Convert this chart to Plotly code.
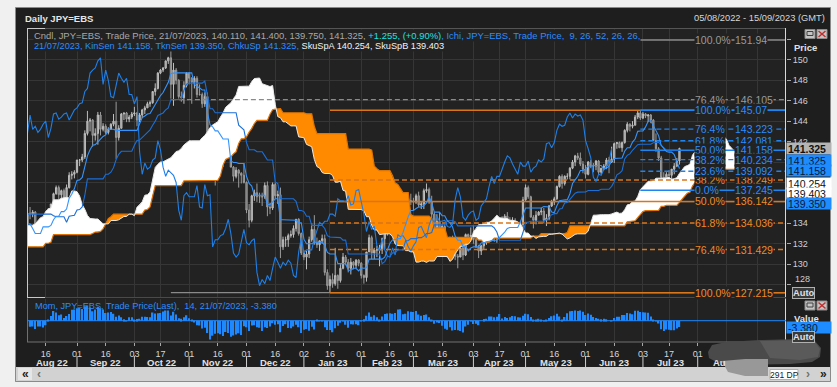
import numpy as np
import pandas as pd
import plotly.graph_objects as go

# ---------------- data ----------------
# prior sessions 20/04/2022 - 04/08/2022 (off-screen look-back for the Ichimoku spans / momentum)
pre_high = [129.4, 128.6, 128.8, 128.6, 128.2, 128.5, 131.2, 131.3, 130.3, 130.5,
            130.4, 130.8, 130.9, 131.35, 130.5, 130.8, 130.0, 129.5, 129.5, 129.5,
            129.5, 128.9, 128.3, 128.0, 127.9, 127.4, 127.6, 127.3, 127.8, 128.8,
            130.2, 130.3, 131.0, 132.0, 133.0, 134.5, 134.6, 134.5, 135.2, 135.6,
            135.4, 134.7, 135.4, 135.4, 136.7, 136.7, 136.4, 135.4, 135.6, 136.4,
            137.0, 136.9, 135.8, 135.9, 136.4, 136.2, 136.0, 136.5, 137.7, 137.7,
            137.9, 139.4, 139.1, 138.9, 138.4, 138.4, 138.9, 137.7, 136.8, 137.4,
            137.5, 136.6, 134.6, 133.5, 133.2, 134.1, 134.0]
pre_low = [127.5, 127.2, 127.8, 127.0, 126.9, 127.0, 128.5, 129.3, 129.4, 129.9,
           128.6, 129.0, 130.0, 130.1, 129.9, 129.5, 127.5, 128.3, 128.8, 128.9,
           128.0, 127.5, 127.5, 127.0, 126.4, 126.6, 126.9, 126.9, 127.0, 127.5,
           128.6, 129.5, 129.9, 130.6, 131.8, 132.5, 133.6, 133.4, 133.6, 134.0,
           133.5, 131.5, 131.5, 134.6, 134.6, 135.2, 134.3, 134.5, 134.9, 135.3,
           135.9, 135.6, 134.7, 135.1, 135.3, 134.9, 135.5, 135.6, 135.9, 136.6,
           136.4, 137.2, 138.2, 137.9, 137.4, 137.6, 137.0, 135.6, 135.6, 136.3,
           136.3, 134.2, 132.5, 131.6, 130.4, 132.6, 132.9]
pre_close = [127.9, 128.4, 128.5, 128.1, 127.2, 128.4, 130.8, 129.8, 130.1, 130.1,
             129.1, 130.2, 130.6, 130.3, 130.4, 129.9, 128.3, 129.2, 129.2, 129.4,
             128.3, 128.0, 127.9, 127.9, 126.9, 127.3, 127.1, 127.1, 127.6, 128.7,
             130.1, 129.9, 130.9, 131.9, 132.6, 134.2, 134.4, 134.4, 134.4, 135.4,
             134.0, 132.2, 135.0, 135.0, 136.6, 136.2, 134.9, 135.2, 135.4, 136.1,
             136.6, 135.7, 135.2, 135.7, 135.9, 135.9, 136.0, 136.1, 137.4, 136.9,
             137.4, 138.9, 138.5, 138.2, 138.2, 138.2, 137.4, 136.1, 136.7, 137.0,
             136.6, 134.3, 133.3, 131.6, 133.1, 133.8, 133.9]

# visible sessions 05/08/2022 - 21/07/2023
open_ = [133.9, 135.0, 134.9, 135.1, 132.9, 133.0, 133.5, 133.3, 134.2, 135.0,
         135.9, 136.9, 137.5, 136.8, 137.2, 136.5, 137.5, 138.7, 138.8, 139.0,
         140.2, 140.2, 140.5, 142.8, 144.0, 144.1, 142.6, 142.8, 144.6, 143.2,
         143.5, 142.9, 143.2, 143.7, 144.0, 142.4, 143.3, 144.7, 144.8, 144.2,
         144.4, 144.7, 144.8, 144.1, 144.6, 145.1, 145.3, 145.7, 145.8, 146.9,
         147.2, 148.7, 149.0, 149.2, 149.9, 150.2, 147.6, 149.0, 148.0, 146.4,
         146.3, 147.5, 148.7, 148.2, 147.8, 148.2, 146.6, 146.6, 145.7, 146.4,
         141.0, 138.8, 139.9, 139.3, 139.5, 140.2, 140.4, 142.1, 141.2, 139.5,
         138.6, 139.2, 138.9, 138.7, 138.0, 135.3, 134.3, 136.7, 137.0, 136.6,
         136.6, 136.6, 137.7, 135.6, 135.5, 137.8, 136.7, 136.8, 131.7, 132.4,
         132.4, 132.8, 132.9, 133.5, 134.4, 133.0, 131.1, 130.7, 131.0, 132.4,
         133.4, 132.1, 131.9, 132.3, 132.5, 129.2, 127.9, 128.5, 128.1, 128.9,
         128.4, 129.6, 130.7, 130.2, 129.6, 130.2, 129.9, 130.4, 130.1, 128.9,
         128.7, 131.2, 132.6, 131.1, 131.4, 131.4, 131.4, 132.5, 133.2, 134.1,
         133.9, 134.2, 134.2, 134.9, 134.9, 134.7, 136.4, 136.2, 136.2, 136.1,
         136.7, 135.8, 135.9, 137.2, 137.3, 136.1, 134.9, 133.2, 134.2, 133.4,
         133.7, 131.8, 131.3, 132.5, 131.4, 130.8, 130.7, 131.6, 130.9, 132.9,
         132.7, 132.8, 132.4, 131.7, 131.3, 131.8, 132.2, 133.6, 133.7, 133.1,
         132.6, 133.8, 134.5, 134.1, 134.7, 134.2, 134.2, 134.3, 133.7, 133.6,
         133.9, 136.3, 137.5, 136.6, 134.6, 134.3, 134.8, 135.1, 135.2, 134.3,
         134.5, 135.7, 136.1, 136.4, 137.6, 138.6, 137.9, 138.6, 138.6, 139.4,
         140.0, 140.6, 140.4, 139.8, 139.3, 138.8, 140.0, 139.6, 139.6, 140.1,
         139.0, 139.4, 139.6, 140.2, 140.0, 140.3, 141.8, 141.9, 141.4, 141.9,
         143.1, 143.7, 143.5, 143.6, 144.4, 144.8, 144.3, 144.705, 144.5, 144.6,
         144.1, 142.1, 141.3, 140.4, 138.5, 138.1, 138.8, 138.7, 139.3, 139.6,
         140.11]
high = [135.5, 135.6, 135.3, 135.2, 133.4, 133.9, 133.6, 134.5, 135.5, 135.9,
        137.0, 137.7, 137.7, 137.3, 137.4, 137.8, 139.0, 139.1, 139.2, 140.2,
        140.3, 140.8, 143.1, 145.0, 144.3, 144.2, 143.3, 144.9, 144.9, 143.8,
        143.7, 143.4, 143.8, 144.7, 145.9, 143.6, 144.8, 144.8, 144.9, 144.6,
        144.9, 145.4, 144.9, 144.8, 145.2, 145.5, 145.9, 146.0, 146.9, 147.7,
        148.8, 149.1, 149.3, 149.9, 150.3, 151.94, 149.7, 149.2, 148.1, 146.9,
        147.9, 148.8, 148.8, 148.3, 148.4, 148.4, 147.6, 146.8, 146.8, 146.8,
        142.5, 140.8, 140.6, 140.2, 140.8, 140.5, 142.2, 142.2, 141.7, 139.6,
        139.5, 139.3, 139.0, 139.9, 138.1, 135.9, 136.8, 137.3, 137.9, 137.0,
        137.0, 138.0, 138.1, 136.0, 138.0, 138.0, 137.2, 137.5, 132.7, 132.7,
        133.0, 133.3, 133.8, 134.4, 134.5, 133.1, 131.4, 131.3, 132.7, 134.0,
        134.8, 132.6, 132.3, 132.9, 132.9, 129.5, 128.9, 129.1, 131.6, 129.0,
        130.0, 131.1, 130.9, 130.5, 130.6, 130.3, 130.5, 130.5, 130.2, 129.0,
        131.2, 132.9, 132.8, 131.6, 131.8, 131.9, 132.6, 133.3, 134.3, 134.2,
        135.0, 134.5, 135.2, 135.2, 135.1, 136.5, 136.5, 136.9, 136.5, 136.9,
        137.1, 136.1, 137.4, 137.9, 137.5, 136.7, 135.1, 134.9, 135.1, 133.9,
        133.9, 132.4, 132.7, 132.8, 131.6, 131.0, 131.8, 131.7, 133.0, 133.0,
        133.6, 133.8, 132.8, 131.9, 131.9, 132.4, 133.7, 133.9, 134.1, 133.3,
        134.0, 134.6, 134.7, 134.9, 135.1, 134.6, 134.6, 134.5, 134.1, 134.2,
        136.6, 137.8, 137.7, 136.7, 134.8, 135.2, 135.2, 135.5, 135.5, 134.9,
        135.8, 136.3, 136.6, 137.7, 138.7, 138.8, 138.7, 138.9, 139.5, 140.2,
        140.7, 140.9, 140.93, 140.1, 139.7, 140.1, 140.2, 139.9, 140.2, 140.2,
        139.4, 139.8, 140.4, 140.5, 141.5, 141.9, 141.9, 142.0, 142.0, 143.2,
        143.9, 143.8, 144.0, 144.6, 145.0, 145.07, 144.9, 144.8, 144.7, 144.7,
        144.2, 142.8, 141.455, 140.6, 139.0, 139.0, 139.2, 139.3, 139.9, 140.4,
        141.4]
low = [132.5, 134.4, 134.6, 132.4, 131.7, 132.6, 132.6, 133.0, 133.9, 134.6,
       135.6, 136.8, 136.2, 136.3, 136.3, 136.2, 137.4, 138.3, 138.4, 138.9,
       139.6, 140.0, 140.3, 142.6, 143.0, 141.5, 142.1, 141.7, 142.6, 143.0,
       142.7, 142.7, 143.2, 143.5, 140.3, 142.1, 143.3, 144.1, 143.9, 143.9,
       144.2, 144.5, 143.5, 143.9, 144.3, 144.7, 145.3, 145.4, 145.7, 146.5,
       147.1, 148.6, 148.8, 149.1, 149.6, 146.2, 145.5, 147.6, 146.2, 145.9,
       145.7, 147.3, 147.6, 145.7, 147.2, 146.3, 146.5, 145.3, 145.4, 140.9,
       138.5, 138.5, 137.7, 138.8, 139.3, 139.5, 140.2, 140.9, 139.5, 138.1,
       138.4, 137.5, 137.9, 137.9, 135.0, 133.6, 134.1, 136.2, 136.1, 136.0,
       135.7, 136.4, 134.7, 134.9, 135.3, 136.4, 135.9, 130.6, 131.4, 131.7,
       131.7, 132.6, 132.6, 133.2, 132.8, 130.9, 130.4, 129.5, 130.6, 132.2,
       131.9, 131.6, 131.3, 132.0, 128.9, 127.5, 127.215, 127.7, 127.9, 127.6,
       128.2, 129.5, 129.9, 129.2, 129.0, 129.5, 129.6, 129.8, 128.6, 128.1,
       128.3, 131.2, 130.5, 130.5, 130.7, 129.8, 131.0, 131.5, 132.8, 133.6,
       133.6, 134.0, 134.1, 134.6, 134.2, 134.1, 135.9, 135.8, 135.3, 135.9,
       135.6, 135.4, 135.4, 137.0, 135.9, 134.1, 132.3, 132.8, 132.9, 131.6,
       131.6, 130.6, 131.1, 131.1, 130.4, 129.6, 130.7, 130.4, 130.8, 132.1,
       132.5, 132.0, 131.6, 130.6, 130.9, 131.4, 131.9, 133.0, 132.7, 132.2,
       132.1, 133.6, 133.9, 133.9, 134.1, 133.9, 133.8, 133.4, 133.3, 133.2,
       133.5, 136.2, 136.4, 134.6, 133.5, 133.9, 134.8, 134.8, 134.0, 133.736,
       134.3, 135.6, 135.8, 136.3, 137.5, 137.4, 137.7, 138.3, 138.3, 139.3,
       139.6, 140.2, 139.6, 138.9, 138.4, 138.7, 139.4, 139.0, 139.2, 138.8,
       138.8, 139.2, 139.3, 138.9, 139.9, 139.9, 141.3, 141.4, 141.0, 141.8,
       142.9, 143.0, 143.3, 143.6, 144.2, 144.1, 144.2, 144.3, 143.9, 143.8,
       142.1, 141.0, 140.1, 138.2, 137.7, 137.245, 138.2, 138.0, 138.8, 139.5,
       139.75]
close = [135.0, 134.9, 135.1, 132.9, 133.0, 133.5, 133.3, 134.2, 135.0, 135.9,
         136.9, 137.5, 136.8, 137.2, 136.5, 137.5, 138.7, 138.8, 139.0, 140.2,
         140.2, 140.5, 142.8, 144.0, 144.1, 142.6, 142.8, 144.6, 143.2, 143.5,
         142.9, 143.2, 143.7, 144.0, 142.4, 143.3, 144.7, 144.8, 144.2, 144.4,
         144.7, 144.8, 144.1, 144.6, 145.1, 145.3, 145.7, 145.8, 146.9, 147.2,
         148.7, 149.0, 149.2, 149.9, 150.2, 147.6, 149.0, 148.0, 146.4, 146.3,
         147.5, 148.7, 148.2, 147.8, 148.2, 146.6, 146.6, 145.7, 146.4, 141.0,
         138.8, 139.9, 139.3, 139.5, 140.2, 140.4, 142.1, 141.2, 139.5, 138.6,
         139.2, 138.9, 138.7, 138.0, 135.3, 134.3, 136.7, 137.0, 136.6, 136.6,
         136.6, 137.7, 135.6, 135.5, 137.8, 136.7, 136.8, 131.7, 132.4, 132.4,
         132.8, 132.9, 133.5, 134.4, 133.0, 131.1, 130.7, 131.0, 132.4, 133.4,
         132.1, 131.9, 132.3, 132.5, 129.2, 127.9, 128.5, 128.1, 128.9, 128.4,
         129.6, 130.7, 130.2, 129.6, 130.2, 129.9, 130.4, 130.1, 128.9, 128.7,
         131.2, 132.6, 131.1, 131.4, 131.4, 131.4, 132.5, 133.2, 134.1, 133.9,
         134.2, 134.2, 134.9, 134.9, 134.7, 136.4, 136.2, 136.2, 136.1, 136.7,
         135.8, 135.9, 137.2, 137.3, 136.1, 134.9, 133.2, 134.2, 133.4, 133.7,
         131.8, 131.3, 132.5, 131.4, 130.8, 130.7, 131.6, 130.9, 132.9, 132.7,
         132.8, 132.4, 131.7, 131.3, 131.8, 132.2, 133.6, 133.7, 133.1, 132.6,
         133.8, 134.5, 134.1, 134.7, 134.2, 134.2, 134.3, 133.7, 133.6, 133.9,
         136.3, 137.5, 136.6, 134.6, 134.3, 134.8, 135.1, 135.2, 134.3, 134.5,
         135.7, 136.1, 136.4, 137.6, 138.6, 137.9, 138.6, 138.6, 139.4, 140.0,
         140.6, 140.4, 139.8, 139.3, 138.8, 140.0, 139.6, 139.6, 140.1, 139.0,
         139.4, 139.6, 140.2, 140.0, 140.3, 141.8, 141.9, 141.4, 141.9, 143.1,
         143.7, 143.5, 143.6, 144.4, 144.8, 144.3, 144.705, 144.5, 144.6, 144.1,
         142.1, 141.3, 140.4, 138.5, 138.1, 138.8, 138.7, 139.3, 139.6, 140.07,
         141.325]

TENKAN_N, KIJUN_N, SPANB_N, SHIFT, MOM_N = 9, 26, 52, 26, 14

tick_dates = ["2022-08-16", "2022-09-01", "2022-09-16", "2022-10-03", "2022-10-17",
              "2022-11-01", "2022-11-16", "2022-12-01", "2022-12-16", "2023-01-02",
              "2023-01-16", "2023-02-01", "2023-02-16", "2023-03-01", "2023-03-16",
              "2023-04-03", "2023-04-17", "2023-05-01", "2023-05-16", "2023-06-01",
              "2023-06-16", "2023-07-03", "2023-07-17", "2023-08-01", "2023-08-16",
              "2023-09-01"]
tick_text = ["16", "01", "16", "03", "17", "01", "16", "01", "16", "02", "16", "01", "16",
             "01", "16", "03", "17", "01", "16", "01", "16", "03", "17", "01", "16", "01"]
month_starts = ["2022-09-01", "2022-10-03", "2022-11-01", "2022-12-01", "2023-01-02",
                "2023-02-01", "2023-03-01", "2023-04-03", "2023-05-01", "2023-06-01",
                "2023-07-03", "2023-08-01"]
month_labels = ["Aug 22", "Sep 22", "Oct 22", "Nov 22", "Dec 22", "Jan 23", "Feb 23",
                "Mar 23", "Apr 23", "May 23", "Jun 23", "Jul 23"]

# Fibonacci retracements
fib_gray_start = "2022-10-21"
fib_gray_pct = ["100.0%", "76.4%", "0.0%"]
fib_gray_val = [151.94, 146.105, 127.215]
fib_gray_dash = ["solid", "dash", "solid"]
fib_orange_start = "2023-01-16"
fib_orange_pct = ["0.0%", "38.2%", "50.0%", "61.8%", "76.4%", "100.0%"]
fib_orange_val = [145.07, 138.249, 136.142, 134.036, 131.429, 127.215]
fib_orange_dash = ["solid", "dash", "solid", "dash", "dash", "solid"]
fib_blue_start = "2023-06-30"
fib_blue_pct = ["100.0%", "76.4%", "61.8%", "50.0%", "38.2%", "23.6%", "0.0%"]
fib_blue_val = [145.07, 143.223, 142.081, 141.158, 140.234, 139.092, 137.245]
fib_blue_dash = ["solid", "dash", "dash", "solid", "dash", "dash", "solid"]

# ---------------- derived (indicators) ----------------
dates = pd.bdate_range("2022-08-05", "2023-09-15")      # 291 sessions on the axis
def didx(d):
    return int(dates.get_loc(pd.Timestamp(d)))

n = len(close)
npre = len(pre_close)
H = np.array(pre_high + high, dtype=float)
L = np.array(pre_low + low, dtype=float)
C = np.array(pre_close + close, dtype=float)

def mid(k, p):
    return (H[k - p + 1:k + 1].max() + L[k - p + 1:k + 1].min()) / 2.0

xi = list(range(n))
tenkan = [mid(j + npre, TENKAN_N) for j in xi]
kijun = [mid(j + npre, KIJUN_N) for j in xi]
span_x = list(range(n + SHIFT))
span_a = [(mid(j - SHIFT + npre, TENKAN_N) + mid(j - SHIFT + npre, KIJUN_N)) / 2 for j in span_x]
span_b = [mid(j - SHIFT + npre, SPANB_N) for j in span_x]
chik_x = [j - SHIFT for j in range(SHIFT, n)]
chik_y = close[SHIFT:]
mom = [C[j + npre] - C[j + npre - MOM_N] for j in xi]

cur_spanA = (tenkan[-1] + kijun[-1]) / 2
cur_spanB = mid(n - 1 + npre, SPANB_N)

def f3(v):
    return f"{v + 1e-9:.3f}"

# ---------------- geometry helpers ----------------
PXL, PXR, PXT, PXB = 27.0, 786.0, 28.0, 342.0
def px(x):
    return (x - PXL) / (PXR - PXL)
def py(y):
    return (PXB - y) / (PXB - PXT)

FONT = "Liberation Sans, Arial, sans-serif"
FRAME = "#1e1e1e"
PANE = "#222222"
GRID = "#363636"
BLUE = "#2b8cff"
ORANGE = "#ff8a00"

fig = go.Figure()

# cloud
def cloud_segments(xs, a, b):
    segs = []
    sx, sa, sb = [xs[0]], [a[0]], [b[0]]
    cur = a[0] >= b[0]
    for i in range(1, len(xs)):
        s = a[i] >= b[i]
        if s != cur:
            d0 = a[i - 1] - b[i - 1]
            d1 = a[i] - b[i]
            t = d0 / (d0 - d1)
            xc = xs[i - 1] + t * (xs[i] - xs[i - 1])
            yc = a[i - 1] + t * (a[i] - a[i - 1])
            sx.append(xc); sa.append(yc); sb.append(yc)
            segs.append((cur, sx, sa, sb))
            sx, sa, sb = [xc], [yc], [yc]
            cur = s
        sx.append(xs[i]); sa.append(a[i]); sb.append(b[i])
    segs.append((cur, sx, sa, sb))
    return segs

for bull, sx, sa, sb in cloud_segments(span_x, span_a, span_b):
    fig.add_trace(go.Scatter(x=sx + sx[::-1], y=sa + sb[::-1], fill="toself",
                             fillcolor="#ffffff" if bull else ORANGE,
                             line=dict(width=0), mode="lines", hoverinfo="skip"))
fig.add_trace(go.Scatter(x=span_x, y=span_b, mode="lines", line=dict(color="#e07400", width=1.2)))
fig.add_trace(go.Scatter(x=span_x, y=span_a, mode="lines", line=dict(color="#e8e8e8", width=1)))

# fib lines
X_END = 291
def add_fib(start, vals, dashes, color, width):
    s = didx(start)
    for v, d in zip(vals, dashes):
        fig.add_trace(go.Scatter(x=[s, X_END], y=[v, v], mode="lines",
                                 line=dict(color=color, width=width,
                                           dash="solid" if d == "solid" else "5px,3px"),
                                 hoverinfo="skip"))
add_fib(fib_gray_start, fib_gray_val, fib_gray_dash, "#8a8a8a", 1.3)
add_fib(fib_orange_start, fib_orange_val, fib_orange_dash, "#d9761a", 1.5)
add_fib(fib_blue_start, fib_blue_val, fib_blue_dash, "#1e84f0", 1.4)

# candles
fig.add_trace(go.Candlestick(x=xi, open=open_, high=high, low=low, close=close,
                             increasing=dict(line=dict(color="#bdbdbd", width=1), fillcolor="#9a9a9a"),
                             decreasing=dict(line=dict(color="#9c9c9c", width=1), fillcolor="#6a6a6a"),
                             whiskerwidth=0, hoverinfo="skip"))

# ichimoku lines
fig.add_trace(go.Scatter(x=chik_x, y=chik_y, mode="lines", line=dict(color="#1f7fe6", width=1.1)))
fig.add_trace(go.Scatter(x=xi, y=kijun, mode="lines", line=dict(color="#1a6fd8", width=1.1)))
fig.add_trace(go.Scatter(x=xi, y=tenkan, mode="lines", line=dict(color="#3394ff", width=1.1)))

# momentum
fig.add_trace(go.Bar(x=xi, y=mom, width=0.55, marker=dict(color="#1e88ff", line=dict(width=0)),
                     xaxis="x2", yaxis="y2", hoverinfo="skip"))

tick_idx = [didx(d) for d in tick_dates]
ytv = list(range(128, 153, 2))
ytt = [str(v) if v in (130, 132, 134, 142, 144, 146, 148, 150) else "" for v in ytv]
XR = [(PXL - 27.45) / 2.608, (PXR - 27.45) / 2.608]

fig.update_layout(
    width=837, height=387, margin=dict(l=27, r=51, t=28, b=45),
    paper_bgcolor="#f0f0f0", plot_bgcolor=PANE, showlegend=False,
    xaxis=dict(domain=[0, 1], anchor="y", range=XR, tickvals=tick_idx, showticklabels=False,
               showgrid=True, gridcolor=GRID, gridwidth=1, zeroline=False, ticks="",
               rangeslider=dict(visible=False), fixedrange=True),
    xaxis2=dict(domain=[0, 1], anchor="y2", range=XR, matches="x", tickvals=tick_idx,
                ticktext=tick_text, ticks="outside", ticklen=3, tickcolor="#a8a8a8",
                tickfont=dict(family=FONT, size=9, color="#d6d6d6"),
                showgrid=True, gridcolor=GRID, zeroline=False),
    yaxis=dict(domain=[py(297.5), 1], anchor="x", side="right", range=[126.744, 153.114],
               tickvals=ytv, ticktext=ytt, ticks="outside", ticklen=4, tickcolor="#a8a8a8",
               tickfont=dict(family=FONT, size=9, color="#cfcfcf"),
               showgrid=True, gridcolor=GRID, zeroline=False),
    yaxis2=dict(domain=[0, py(298.5)], anchor="x2", side="right", range=[-11.51, 12.0],
                showticklabels=False, showgrid=False, zeroline=False, ticks=""),
)

shapes = []
def rect(x0, y0, x1, y1, fill, line=None, layer="below", lw=1):
    shapes.append(dict(type="rect", xref="paper", yref="paper", x0=px(x0), x1=px(x1),
                       y0=py(y1), y1=py(y0), fillcolor=fill, layer=layer,
                       line=dict(color=line or fill, width=lw if line else 0)))
def hline(x0, x1, y, color, w=1, layer="above"):
    shapes.append(dict(type="line", xref="paper", yref="paper", x0=px(x0), x1=px(x1),
                       y0=py(y), y1=py(y), line=dict(color=color, width=w), layer=layer))
def vline(x, y0, y1, color, w=1, layer="above"):
    shapes.append(dict(type="line", xref="paper", yref="paper", x0=px(x), x1=px(x),
                       y0=py(y0), y1=py(y1), line=dict(color=color, width=w), layer=layer))
def ppath(pts, fill):
    d = "M " + " L ".join(f"{px(a):.5f},{py(b):.5f}" for a, b in pts) + " Z"
    shapes.append(dict(type="path", xref="paper", yref="paper", path=d, fillcolor=fill,
                       line=dict(width=0), layer="above"))

rect(15.5, 7.5, 830.5, 381.5, FRAME, line="#8a8a8a")
rect(27, 28, 786, 297.5, PANE)
rect(27, 298.5, 786, 342, PANE)
rect(16, 367, 830, 381, "#d2d2d2")
rect(18, 368, 32, 380, "#e6e6e6")

# pane frames
hline(27, 786, 28.5, "#555555")
hline(27, 45, 28.5, "#c8c8c8")
vline(27.5, 28, 297.5, "#c8c8c8")
vline(785.5, 28, 297.5, "#d8d8d8")
hline(27, 786, 297.5, "#4a4a4a")
hline(27, 45, 297.5, "#c8c8c8")
vline(27.5, 298.5, 342, "#707070")
vline(785.5, 298.5, 342, "#d8d8d8")
hline(27, 786, 342, "#707070")

# month separators
for d in month_starts:
    xx = 27.45 + didx(d) * 2.608
    vline(xx, 356, 368, "#cfcfcf", 1)

# mom zero line
shapes.append(dict(type="line", xref="paper", yref="y2", x0=0, x1=1, y0=0, y1=0,
                   line=dict(color="#1e88ff", width=1), layer="above"))

# window icons
for yy in (29.5, 301):
    rect(805, yy, 815, yy + 9, "#c4c4c4", line="#8a8a8a", layer="above")
    rect(807, yy + 2, 813, yy + 6, "#c4c4c4", line="#404040", layer="above")
    rect(817, yy, 827, yy + 9, "#c4c4c4", line="#8a8a8a", layer="above")
    shapes.append(dict(type="line", xref="paper", yref="paper", x0=px(818.5), x1=px(825.5),
                       y0=py(yy + 1.5), y1=py(yy + 7.5), line=dict(color="#c03030", width=1.5), layer="above"))
    shapes.append(dict(type="line", xref="paper", yref="paper", x0=px(818.5), x1=px(825.5),
                       y0=py(yy + 7.5), y1=py(yy + 1.5), line=dict(color="#c03030", width=1.5), layer="above"))

# blurred patch (bottom right)
ppath([(708, 352), (712, 345), (726, 342), (760, 340), (800, 339), (815, 341), (821, 348),
       (820, 357), (812, 362), (790, 364), (740, 365), (718, 363), (709, 358)], "#4a4a4a")
ppath([(760, 341), (800, 340), (815, 342), (820, 349), (818, 357), (800, 360), (770, 358)], "#5a5a5a")
ppath([(722, 361), (745, 359), (768, 359), (768, 376), (745, 376), (728, 372)], "#989898")
rect(770, 369.5, 798, 379.5, "#ffffff", line="#b0b0b0", layer="above")

fig.update_layout(shapes=shapes)

ann = []
def text(x, y, s, size=9, color="#d0d0d0", xanchor="left", bg=None, bold=False, **kw):
    a = dict(xref="paper", yref="paper", x=px(x), y=py(y), text=f"<b>{s}</b>" if bold else s,
             showarrow=False, xanchor=xanchor, yanchor="middle",
             font=dict(family=FONT, size=size, color=color))
    if bg:
        a["bgcolor"] = bg
    a.update(kw)
    ann.append(a)

text(23, 18, "Daily JPY=EBS", size=9.5, color="#e6e6e6", bold=True)
text(827, 18, "05/08/2022 - 15/09/2023 (GMT)", size=9.3, color="#d6d6d6", xanchor="right")

row1 = (f"<span style='color:#a8a8a8'>Cndl, JPY=EBS, Trade Price, 21/07/2023, {f3(open_[-1])}, "
        f"{f3(high[-1])}, {f3(low[-1])}, {f3(close[-1])}, </span>"
        f"<span style='color:#1ee0e0'>{close[-1] - close[-2]:+.3f}, "
        f"({(close[-1] - close[-2]) / close[-2] * 100:+.2f}%)</span>"
        f"<span style='color:{BLUE}'>, Ichi, JPY=EBS, Trade Price, &nbsp;{TENKAN_N}, {KIJUN_N}, "
        f"{SPANB_N}, {SHIFT}, {SHIFT},</span>")
row2 = (f"<span style='color:{BLUE}'>21/07/2023, KinSen {f3(kijun[-1])}, TknSen {f3(tenkan[-1])}, "
        f"ChkuSp {f3(close[-1])}, </span>"
        f"<span style='color:#f2f2f2'>SkuSpA {f3(cur_spanA)}, SkuSpB {f3(cur_spanB)}</span>")
text(33, 35, row1, size=9.45, bg=PANE, borderpad=0)
text(33, 45.5, row2, size=9.2, bg=PANE, borderpad=0)
text(33, 306, f"Mom, JPY=EBS, Trade Price(Last), &nbsp;{MOM_N}, 21/07/2023, {f3(mom[-1])}",
     size=9.2, color=BLUE)

# fib labels
def fib_labels(pcts, vals, color, skip=()):
    for p, v in zip(pcts, vals):
        if p in skip:
            continue
        for xx, s in ((694, p), (734, f"{v:g}")):
            ann.append(dict(xref="paper", yref="y", x=px(xx), y=v, text=s, showarrow=False,
                            xanchor="left", yanchor="middle", bgcolor=PANE, borderpad=0,
                            font=dict(family=FONT, size=10.5, color=color)))
fib_labels(fib_gray_pct, fib_gray_val, "#9a9a9a", skip=("0.0%",))
fib_labels(fib_orange_pct, fib_orange_val, "#f08a22", skip=("0.0%",))
fib_labels(fib_blue_pct, fib_blue_val, "#2b8cff")

# right axis readouts
def box(y, s, bg, fg, bold=False):
    ann.append(dict(xref="paper", yref="paper", x=px(786.5), y=py(y), text=f"<b>{s}</b>" if bold else s,
                    showarrow=False, xanchor="left", yanchor="middle", bgcolor=bg, borderpad=1,
                    width=42, height=9, align="left",
                    font=dict(family=FONT, size=10.5, color=fg)))
box(148.5, f3(close[-1]), "#b4b4b4", "#101010", bold=True)
box(160.0, f3(close[-1]), "#1e8cff", "#06183a")
box(170.6, f3(kijun[-1]), "#1e8cff", "#06183a")
box(183.0, f3(cur_spanA), "#ffffff", "#101010")
box(193.4, f3(cur_spanB), "#ffffff", "#101010")
box(203.8, f3(tenkan[-1]), "#1e8cff", "#06183a")
box(327.0, f3(mom[-1]), "#1e8cff", "#06183a")

text(792, 47, "Price", size=9.5, color="#e2e2e2", bold=True)
text(792, 318, "Value", size=9.5, color="#e2e2e2", bold=True)
text(793, 279, "128", size=9, color="#cfcfcf")
for yy in (292.5, 336.5):
    text(803, yy, "Auto", size=9.3, color="#e0e0e0", xanchor="center", bold=True,
         bgcolor="#3a3a3a", bordercolor="#b0b0b0", borderwidth=1, borderpad=0)

# month labels
ms = [0] + [didx(d) for d in month_starts]
for i, lab in enumerate(month_labels):
    cx = 27.45 + (ms[i] + ms[i + 1]) / 2 * 2.608
    text(cx, 362, lab, size=9.5, color="#e2e2e2", xanchor="center", bold=True)
text(711, 362, "Au", size=9.5, color="#e2e2e2", bold=True)

# scroll bar texts
text(25, 374, "«", size=12, color="#202020", xanchor="center", bold=True)
text(39, 374, "‹", size=12, color="#707070", xanchor="center", bold=True)
text(784, 374.5, "291 DP", size=8.5, color="#202020", xanchor="center")
text(808, 374, "›", size=12, color="#707070", xanchor="center", bold=True)
text(823, 374, "»", size=12, color="#202020", xanchor="center", bold=True)

fig.update_layout(annotations=ann)
fig.write_html("out.html", config={"displayModeBar": False},
               post_script="document.body.style.margin='0px';document.body.style.overflow='hidden';")
